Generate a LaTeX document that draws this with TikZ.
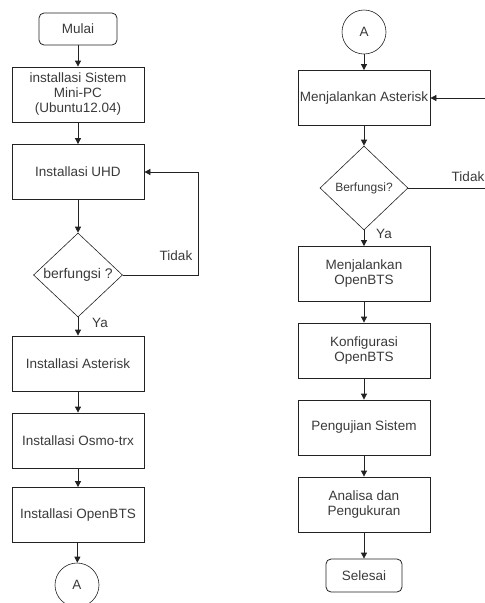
\documentclass[tikz,border=0pt]{standalone}
\usepackage{fontspec}
\setmainfont{Liberation Sans}
\usepackage{tikz}
\usetikzlibrary{arrows.meta,shapes.geometric}
\definecolor{ink}{HTML}{222222}
\definecolor{txt}{HTML}{3A3A3A}

\begin{document}
\begin{tikzpicture}[x=1pt, y=-1pt, >={Triangle[width=6pt,length=6pt]},
    font=\fontsize{13.5}{15}\selectfont, text=txt,
    box/.style={draw=ink, line width=0.8pt, minimum width=132pt, minimum height=55pt, align=center, inner sep=1pt},
    term/.style={draw=ink, line width=0.8pt, rounded corners=5pt, minimum height=32pt, align=center},
    cek/.style={draw=ink, line width=0.6pt, diamond, minimum width=88pt, minimum height=84pt, inner sep=0pt, aspect=1},
    konek/.style={draw=ink, line width=0.6pt, circle, minimum size=44pt, inner sep=0pt},
    line/.style={draw=ink, line width=0.8pt}]
  \useasboundingbox (0,0) rectangle (485,603);
  % kolom kiri
  \node[term, minimum width=78pt] (mulai) at (78,29) {Mulai};
  \node[box] (sistem) at (78,94.5) {installasi Sistem\\Mini-PC\\(Ubuntu12.04)};
  \node[box] (uhd) at (78,172) {Installasi UHD};
  \node[cek, minimum width=89pt, font=\fontsize{14}{16}\selectfont] (cek1) at (78,275) {berfungsi ?};
  \node[box] (asterisk) at (78,363.5) {Installasi Asterisk};
  \node[box] (osmo) at (78,440.5) {Installasi Osmo-trx};
  \node[box] (openbts) at (78,515) {Installasi OpenBTS};
  \node[konek] (a1) at (77,585) {A};
  \coordinate (balik1) at (198,275);
  \draw[line,->] (mulai) -- (sistem);
  \draw[line,->] (sistem) -- (uhd);
  \draw[line,->] (uhd) -- (cek1);
  \draw[line,->] (cek1) -- (asterisk);
  \draw[line,->] (asterisk) -- (osmo);
  \draw[line,->] (osmo) -- (openbts);
  \draw[line,->] (openbts) -- (a1);
  \draw[line,->] (cek1.east) -- (balik1) |- (uhd.east);
  \node (ya1) at (100,323) {Ya};
  \node (tidak1) at (176,256) {Tidak};
  % kolom kanan
  \node[konek] (a2) at (364,32) {A};
  \node[box, inner sep=0pt] (jalanast) at (364,98) {Menjalankan Asterisk};
  \node[cek, font=\fontsize{12}{14}\selectfont] (cek2) at (364,188) {Berfungsi?};
  \node[box] (jalanbts) at (364,274) {Menjalankan\\OpenBTS};
  \node[box] (konfig) at (364,350.5) {Konfigurasi\\OpenBTS};
  \node[box] (uji) at (364,427.5) {Pengujian Sistem};
  \node[box] (analisa) at (364,504.5) {Analisa dan\\Pengukuran};
  \node[term, minimum width=76pt, minimum height=33pt] (selesai) at (364,575.5) {Selesai};
  \coordinate (balik2) at (505,188);
  \draw[line,->] (a2) -- (jalanast);
  \draw[line,->] (jalanast) -- (cek2);
  \draw[line,->] (cek2) -- (jalanbts);
  \draw[line,->] (jalanbts) -- (konfig);
  \draw[line,->] (konfig) -- (uji);
  \draw[line,->] (uji) -- (analisa);
  \draw[line,->] (analisa) -- (selesai);
  \draw[line,->] (cek2.east) -- (balik2) |- (jalanast.east);
  \node (ya2) at (384,234) {Ya};
  \node (tidak2) at (468,177) {Tidak};
\end{tikzpicture}
\end{document}
